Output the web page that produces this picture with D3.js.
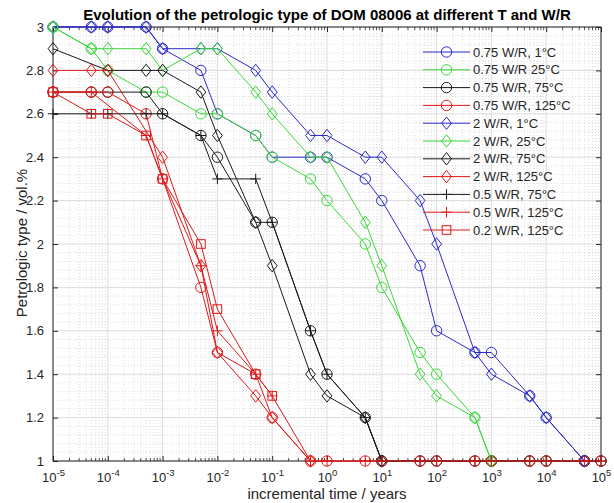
<!DOCTYPE html>
<html>
<head>
<meta charset="utf-8">
<script src="https://cdn.jsdelivr.net/npm/d3@7"></script>
<style>
  body { margin: 0; background: #fff; }
  svg { font-family: "Liberation Sans", Arial, Helvetica, sans-serif; }
</style>
</head>
<body>
<svg width="614" height="503"></svg>
<script>
// incremental time steps (years)
var times = [1e-5, 5e-5, 1e-4, 5e-4, 1e-3, 5e-3, 1e-2, 5e-2, 0.1, 0.5, 1, 5, 10, 50, 100, 500, 1e3, 5e3, 1e4, 5e4, 1e5];

// petrologic type per series (null = no point)
var wr075_1C   = [3, 3, 3, 3, 2.9, 2.8, 2.6, 2.5, 2.4, 2.4, 2.4, 2.3, 2.2, 1.9, 1.6, 1.5, 1.5, 1.3, 1.2, 1, 1];
var wr075_25C  = [3, 2.9, 2.8, 2.7, 2.7, 2.6, 2.6, 2.5, 2.4, 2.3, 2.2, 2.0, 1.8, 1.5, 1.4, 1.2, 1, 1, 1, 1, 1];
var wr075_75C  = [2.7, 2.7, 2.7, 2.7, 2.6, 2.5, 2.4, 2.1, 2.1, 1.6, 1.4, 1.2, 1, 1, 1, 1, 1, 1, 1, 1, 1];
var wr075_125C = [2.7, 2.7, 2.7, 2.6, 2.3, 1.8, 1.5, 1.4, 1.2, 1, 1, 1, 1, 1, 1, 1, 1, 1, 1, 1, 1];
var wr2_1C     = [3, 3, 3, 3, 2.9, 2.9, 2.9, 2.8, 2.7, 2.5, 2.5, 2.4, 2.4, 2.2, 2.0, 1.5, 1.4, 1.3, 1.2, 1, null];
var wr2_25C    = [3, 2.9, 2.9, 2.9, 2.8, 2.9, 2.9, 2.7, 2.6, 2.4, 2.4, 2.1, 1.9, 1.4, 1.3, 1.2, 1, null, null, null, null];
var wr2_75C    = [2.9, null, 2.8, 2.8, 2.8, 2.7, 2.5, 2.1, 1.9, 1.4, 1.3, 1.2, 1, null, null, null, null, null, null, null, null];
var wr2_125C   = [2.8, 2.8, 2.8, null, 2.4, 1.9, 1.5, 1.3, 1.2, 1, null, null, null, null, null, null, null, null, null, null, null];
var wr05_75C   = [2.6, 2.6, 2.6, 2.6, 2.6, 2.5, 2.3, 2.3, 2.1, 1.6, 1.4, 1.2, 1, 1, 1, 1, 1, 1, 1, 1, 1];
var wr05_125C  = [2.7, 2.7, null, 2.5, 2.3, 1.9, 1.6, 1.4, 1.3, 1, 1, 1, 1, 1, 1, 1, 1, 1, 1, 1, 1];
var wr02_125C  = [2.7, 2.6, 2.6, 2.5, 2.3, 2.0, 1.7, 1.4, 1.3, null, null, null, null, null, null, null, null, null, null, null, null];

var seriesNames = ["0.75 W/R, 1\u00B0C", "0.75 W/R 25\u00B0C", "0.75 W/R, 75\u00B0C", "0.75 W/R, 125\u00B0C",
  "2 W/R, 1\u00B0C", "2 W/R, 25\u00B0C", "2 W/R, 75\u00B0C", "2 W/R, 125\u00B0C",
  "0.5 W/R, 75\u00B0C", "0.5 W/R, 125\u00B0C", "0.2 W/R, 125\u00B0C"];
var seriesValues = [wr075_1C, wr075_25C, wr075_75C, wr075_125C, wr2_1C, wr2_25C, wr2_75C, wr2_125C, wr05_75C, wr05_125C, wr02_125C];
var seriesColors = ["blue", "green", "black", "red", "blue", "green", "black", "red", "black", "red", "red"];
var seriesMarkers = ["circle", "circle", "circle", "circle", "diamond", "diamond", "diamond", "diamond", "plus", "plus", "square"];

var yTicks = [1, 1.2, 1.4, 1.6, 1.8, 2, 2.2, 2.4, 2.6, 2.8, 3];
var xTicks = [1e-5, 1e-4, 1e-3, 1e-2, 1e-1, 1e0, 1e1, 1e2, 1e3, 1e4, 1e5];

var palette = { blue: "#2a2acc", green: "#3ad83a", black: "#1a1a1a", red: "#e01818" };

var svg = d3.select("svg"),
    pLeft = 53, pRight = 601, pTop = 27, pBottom = 461;

var x = d3.scaleLog().domain([1e-5, 1e5]).range([pLeft, pRight]);
var y = d3.scaleLinear().domain([1, 3]).range([pBottom, pTop]);

// grid
var minorX = [];
for (var e = -5; e < 5; e++) for (var k = 2; k <= 9; k++) minorX.push(k * Math.pow(10, e));
var minorY = d3.range(1, 3.0001, 0.04).filter(v => Math.abs(Math.round(v * 5) - v * 5) > 1e-6);

var grid = svg.append("g");
grid.selectAll(".mx").data(minorX).enter().append("line")
  .attr("x1", d => x(d)).attr("x2", d => x(d)).attr("y1", pTop).attr("y2", pBottom)
  .attr("stroke", "#c8c8c8").attr("stroke-width", 0.6).attr("stroke-dasharray", "1,2");
grid.selectAll(".my").data(minorY).enter().append("line")
  .attr("x1", pLeft).attr("x2", pRight).attr("y1", d => y(d)).attr("y2", d => y(d))
  .attr("stroke", "#c8c8c8").attr("stroke-width", 0.6).attr("stroke-dasharray", "1,2");
grid.selectAll(".gx").data(xTicks).enter().append("line")
  .attr("x1", d => x(d)).attr("x2", d => x(d)).attr("y1", pTop).attr("y2", pBottom)
  .attr("stroke", "#dcdcdc").attr("stroke-width", 1);
grid.selectAll(".gy").data(yTicks).enter().append("line")
  .attr("x1", pLeft).attr("x2", pRight).attr("y1", d => y(d)).attr("y2", d => y(d))
  .attr("stroke", "#dcdcdc").attr("stroke-width", 1);

// axes (ticks inside, box)
var axisColor = "#262626";
function styleAxis(g) {
  g.select(".domain").remove();
  g.selectAll(".tick line").attr("stroke", axisColor);
  g.selectAll(".tick text").attr("fill", axisColor).attr("font-size", 13);
}
var xb = svg.append("g").attr("transform", "translate(0," + pBottom + ")")
  .call(d3.axisBottom(x).tickValues(xTicks).tickSizeInner(-5).tickSizeOuter(0).tickFormat(""));
styleAxis(xb);
xb.selectAll(".tick text").remove();
xb.selectAll(".tick").append("text")
  .attr("y", 21).attr("text-anchor", "middle").attr("fill", axisColor).attr("font-size", 13)
  .each(function (d) {
    var t = d3.select(this);
    t.append("tspan").text("10");
    t.append("tspan").attr("dy", -6).attr("font-size", 9.5).text(Math.round(Math.log10(d)));
  });
var xt = svg.append("g").attr("transform", "translate(0," + pTop + ")")
  .call(d3.axisTop(x).tickValues(xTicks).tickSizeInner(-5).tickSizeOuter(0).tickFormat(""));
styleAxis(xt);
// minor x ticks
[pBottom, pTop].forEach(function (yy) {
  svg.append("g").selectAll("line").data(minorX).enter().append("line")
    .attr("x1", d => x(d)).attr("x2", d => x(d))
    .attr("y1", yy).attr("y2", yy === pBottom ? yy - 3 : yy + 3)
    .attr("stroke", axisColor).attr("stroke-width", 0.8);
});
var yl = svg.append("g").attr("transform", "translate(" + pLeft + ",0)")
  .call(d3.axisLeft(y).tickValues(yTicks).tickSizeInner(-5).tickSizeOuter(0).tickPadding(9).tickFormat(d3.format("")));
styleAxis(yl);
var yr = svg.append("g").attr("transform", "translate(" + pRight + ",0)")
  .call(d3.axisRight(y).tickValues(yTicks).tickSizeInner(-5).tickSizeOuter(0).tickFormat(""));
styleAxis(yr);
svg.append("rect").attr("x", pLeft).attr("y", pTop).attr("width", pRight - pLeft).attr("height", pBottom - pTop)
  .attr("fill", "none").attr("stroke", axisColor).attr("stroke-width", 1);

// markers
function marker(g, type, color) {
  if (type === "circle") {
    g.append("circle").attr("r", 5.2).attr("fill", "none").attr("stroke", color);
  } else if (type === "diamond") {
    g.append("path").attr("d", "M0,-6.2L4.9,0L0,6.2L-4.9,0Z").attr("fill", "none").attr("stroke", color);
  } else if (type === "square") {
    g.append("rect").attr("x", -4.3).attr("y", -4.3).attr("width", 8.6).attr("height", 8.6)
      .attr("fill", "none").attr("stroke", color);
  } else if (type === "plus") {
    g.append("path").attr("d", "M-5.2,0H5.2M0,-5.2V5.2").attr("stroke", color);
  }
}

var plot = svg.append("g");
var line = d3.line().x(d => x(d.t)).y(d => y(d.v));
seriesValues.forEach(function (vals, i) {
  var pts = times.map((t, j) => ({ t: t, v: vals[j] })).filter(d => d.v != null);
  var col = palette[seriesColors[i]];
  var g = plot.append("g");
  g.append("path").datum(pts).attr("d", line)
    .attr("fill", "none").attr("stroke", col).attr("stroke-width", 1);
  g.selectAll(".m").data(pts).enter().append("g")
    .attr("transform", d => "translate(" + x(d.t) + "," + y(d.v) + ")")
    .each(function () { marker(d3.select(this), seriesMarkers[i], col); });
});

// legend
var lg = svg.append("g");
seriesNames.forEach(function (name, i) {
  var ly = 52 + i * 17.8;
  var col = palette[seriesColors[i]];
  lg.append("line").attr("x1", 423).attr("x2", 470).attr("y1", ly).attr("y2", ly)
    .attr("stroke", col).attr("stroke-width", 1);
  marker(lg.append("g").attr("transform", "translate(446.5," + ly + ")"), seriesMarkers[i], col);
  lg.append("text").attr("x", 473).attr("y", ly + 4.5).attr("font-size", 13).attr("fill", axisColor).text(name);
});

// titles
svg.append("text").attr("x", 327).attr("y", 20).attr("text-anchor", "middle")
  .attr("font-size", 15).attr("font-weight", "bold").attr("fill", "#000")
  .text("Evolution of the petrologic type of DOM 08006 at different T and W/R");
svg.append("text").attr("x", 327).attr("y", 499).attr("text-anchor", "middle")
  .attr("font-size", 15).attr("fill", axisColor).text("incremental time / years");
svg.append("text").attr("transform", "translate(27,243) rotate(-90)").attr("text-anchor", "middle")
  .attr("font-size", 15).attr("fill", axisColor).text("Petrologic type / vol.%");
</script>
</body>
</html>
